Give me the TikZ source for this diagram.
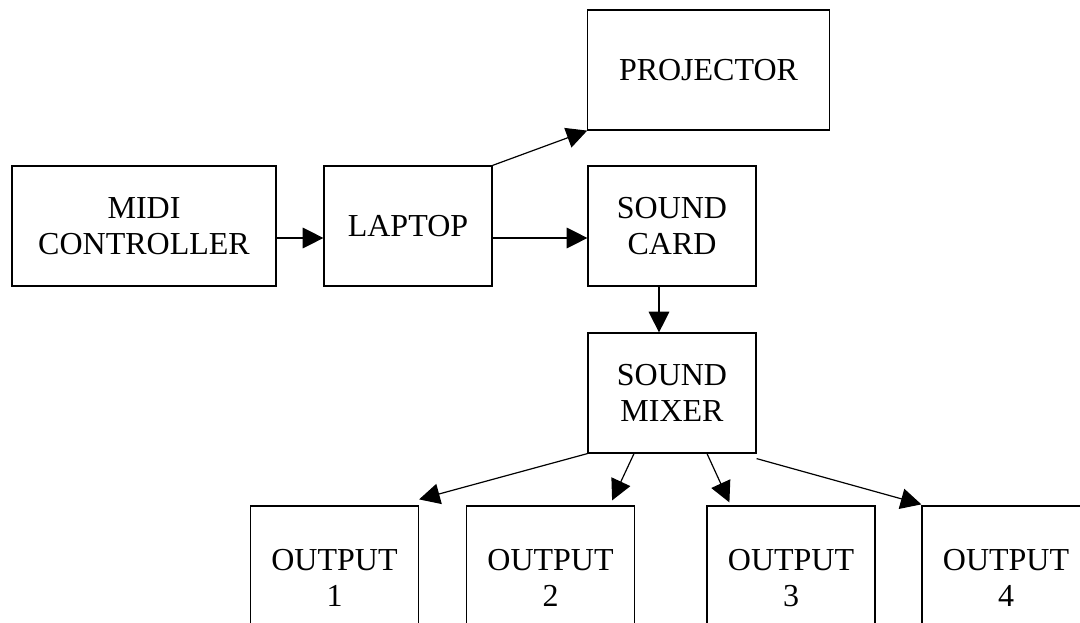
\documentclass[tikz,border=0pt]{standalone}
\usepackage{fontspec}
\setmainfont{Liberation Serif}
\usetikzlibrary{arrows.meta}

\begin{document}
\begin{tikzpicture}[x=0.75pt,y=0.75pt,yscale=-1,
  box/.style={draw, line width=0.9pt, minimum height=90pt, align=center, inner sep=0.75pt, font=\fontsize{24}{27}\selectfont},
  outbox/.style={box, minimum width=126pt, minimum height=108pt},
  arr/.style={-{Triangle[length=15.5pt,width=15.5pt]}, line width=0.9pt}]

\useasboundingbox (0,0) rectangle (1080,623);
\clip (0,0) rectangle (1080,623);

\node [box, minimum width=198pt] (midi) at (144,226) {MIDI\\CONTROLLER};
\node [box, minimum width=126pt] (laptop) at (408,226) {LAPTOP};
\node [box, minimum width=181pt] (projector) at (708.5,70) {PROJECTOR};
\node [box, minimum width=126pt] (card) at (672,226) {SOUND\\CARD};
\node [box, minimum width=126pt] (mixer) at (672,393) {SOUND\\MIXER};

\node [outbox] (out1) at (334.5,578) {OUTPUT\\1};
\node [outbox] (out2) at (550.5,578) {OUTPUT\\2};
\node [outbox] (out3) at (791,578) {OUTPUT\\3};
\node [outbox] (out4) at (1006,578) {OUTPUT\\4};

\draw [arr] ([yshift=9pt]midi.east) -- ([yshift=9pt]laptop.west);
\draw [arr] (laptop.north east) -- (projector.south west);
\draw [arr] ([yshift=9pt]laptop.east) -- ([yshift=9pt]card.west);
\draw [arr] ([xshift=-9.75pt]card.south) -- ([xshift=-9.75pt]mixer.north);

\draw [arr] (mixer.south west) -- ([yshift=-4.5pt]out1.north east);
\draw [arr] ([xshift=-28.5pt]mixer.south) -- ([xshift=-17.25pt,yshift=-3.75pt]out2.north east);
\draw [arr] ([xshift=26.25pt]mixer.south) -- ([xshift=17.25pt,yshift=-2.25pt]out3.north west);
\draw [arr] ([yshift=3.75pt]mixer.south east) -- ([yshift=-0.75pt]out4.north west);
\end{tikzpicture}
\end{document}
